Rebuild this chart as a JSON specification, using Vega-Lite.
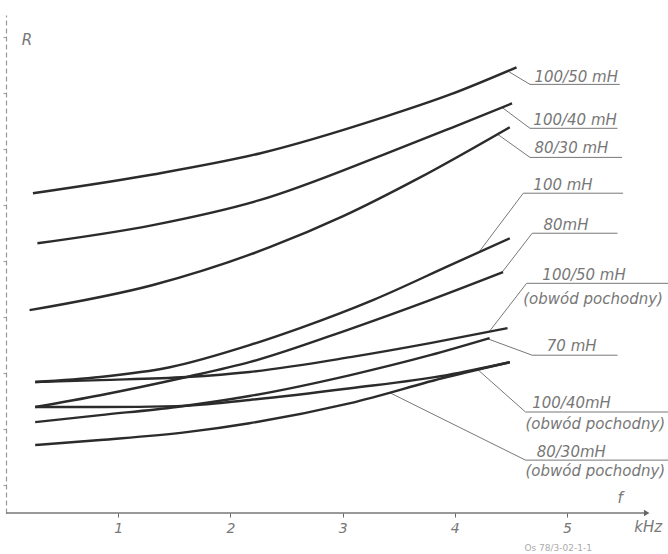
{
  "$schema": "https://vega.github.io/schema/vega-lite/v6.json",
  "width": 662,
  "height": 498,
  "autosize": "none",
  "padding": {"left": 6, "top": 15, "right": 0, "bottom": 41},
  "background": "white",
  "config": {"view": {"stroke": null}},
  "datasets": {
    "curves": [
      {"series": "100/50 mH", "f": 0.24, "R": 11.43}, {"series": "100/50 mH", "f": 1.31, "R": 12.1}, {"series": "100/50 mH", "f": 2.26, "R": 12.85}, {"series": "100/50 mH", "f": 3.36, "R": 14.14}, {"series": "100/50 mH", "f": 3.96, "R": 14.96}, {"series": "100/50 mH", "f": 4.55, "R": 15.93},
      {"series": "100/40 mH", "f": 0.28, "R": 9.64}, {"series": "100/40 mH", "f": 1.31, "R": 10.29}, {"series": "100/40 mH", "f": 2.26, "R": 11.18}, {"series": "100/40 mH", "f": 3.36, "R": 12.8}, {"series": "100/40 mH", "f": 3.96, "R": 13.75}, {"series": "100/40 mH", "f": 4.51, "R": 14.64},
      {"series": "80/30 mH", "f": 0.21, "R": 7.25}, {"series": "80/30 mH", "f": 1.31, "R": 8.15}, {"series": "80/30 mH", "f": 2.35, "R": 9.5}, {"series": "80/30 mH", "f": 3.0, "R": 10.6}, {"series": "80/30 mH", "f": 3.67, "R": 11.95}, {"series": "80/30 mH", "f": 4.49, "R": 13.79},
      {"series": "100 mH", "f": 0.26, "R": 4.68}, {"series": "100 mH", "f": 0.84, "R": 4.86}, {"series": "100 mH", "f": 1.46, "R": 5.21}, {"series": "100 mH", "f": 2.17, "R": 6.0}, {"series": "100 mH", "f": 2.62, "R": 6.61}, {"series": "100 mH", "f": 3.27, "R": 7.61}, {"series": "100 mH", "f": 3.96, "R": 8.86}, {"series": "100 mH", "f": 4.49, "R": 9.82},
      {"series": "80 mH", "f": 0.26, "R": 3.79}, {"series": "80 mH", "f": 0.84, "R": 4.21}, {"series": "80 mH", "f": 1.61, "R": 4.86}, {"series": "80 mH", "f": 2.17, "R": 5.39}, {"series": "80 mH", "f": 3.04, "R": 6.54}, {"series": "80 mH", "f": 3.78, "R": 7.61}, {"series": "80 mH", "f": 4.43, "R": 8.61},
      {"series": "100/50 mH pochodny", "f": 0.26, "R": 4.68}, {"series": "100/50 mH pochodny", "f": 0.84, "R": 4.75}, {"series": "100/50 mH pochodny", "f": 1.61, "R": 4.86}, {"series": "100/50 mH pochodny", "f": 2.17, "R": 5.04}, {"series": "100/50 mH pochodny", "f": 3.07, "R": 5.57}, {"series": "100/50 mH pochodny", "f": 3.78, "R": 6.07}, {"series": "100/50 mH pochodny", "f": 4.47, "R": 6.61},
      {"series": "70 mH", "f": 0.26, "R": 3.25}, {"series": "70 mH", "f": 0.84, "R": 3.5}, {"series": "70 mH", "f": 1.52, "R": 3.79}, {"series": "70 mH", "f": 2.17, "R": 4.18}, {"series": "70 mH", "f": 3.07, "R": 4.93}, {"series": "70 mH", "f": 3.78, "R": 5.64}, {"series": "70 mH", "f": 4.31, "R": 6.25},
      {"series": "100/40 mH pochodny", "f": 0.26, "R": 3.79}, {"series": "100/40 mH pochodny", "f": 0.84, "R": 3.79}, {"series": "100/40 mH pochodny", "f": 1.52, "R": 3.82}, {"series": "100/40 mH pochodny", "f": 2.17, "R": 4.04}, {"series": "100/40 mH pochodny", "f": 3.07, "R": 4.46}, {"series": "100/40 mH pochodny", "f": 3.93, "R": 4.93}, {"series": "100/40 mH pochodny", "f": 4.49, "R": 5.39},
      {"series": "80/30 mH pochodny", "f": 0.26, "R": 2.43}, {"series": "80/30 mH pochodny", "f": 0.84, "R": 2.61}, {"series": "80/30 mH pochodny", "f": 1.61, "R": 2.89}, {"series": "80/30 mH pochodny", "f": 2.17, "R": 3.21}, {"series": "80/30 mH pochodny", "f": 3.07, "R": 3.93}, {"series": "80/30 mH pochodny", "f": 3.93, "R": 4.86}, {"series": "80/30 mH pochodny", "f": 4.49, "R": 5.39}
    ],
    "leaders": [
      {"id": 1, "o": 1, "f": 4.47, "R": 15.8}, {"id": 1, "o": 2, "f": 4.67, "R": 15.32}, {"id": 1, "o": 3, "f": 5.47, "R": 15.32},
      {"id": 2, "o": 1, "f": 4.42, "R": 14.5}, {"id": 2, "o": 2, "f": 4.67, "R": 13.75}, {"id": 2, "o": 3, "f": 5.45, "R": 13.75},
      {"id": 3, "o": 1, "f": 4.38, "R": 13.54}, {"id": 3, "o": 2, "f": 4.67, "R": 12.71}, {"id": 3, "o": 3, "f": 5.49, "R": 12.71},
      {"id": 4, "o": 1, "f": 4.21, "R": 9.3}, {"id": 4, "o": 2, "f": 4.61, "R": 11.43}, {"id": 4, "o": 3, "f": 5.5, "R": 11.43},
      {"id": 5, "o": 1, "f": 4.42, "R": 8.6}, {"id": 5, "o": 2, "f": 4.69, "R": 10.0}, {"id": 5, "o": 3, "f": 5.45, "R": 10.0},
      {"id": 6, "o": 1, "f": 4.31, "R": 6.5}, {"id": 6, "o": 2, "f": 4.64, "R": 8.21}, {"id": 6, "o": 3, "f": 5.9, "R": 8.21},
      {"id": 7, "o": 1, "f": 4.29, "R": 6.23}, {"id": 7, "o": 2, "f": 4.69, "R": 5.64}, {"id": 7, "o": 3, "f": 5.45, "R": 5.64},
      {"id": 8, "o": 1, "f": 4.2, "R": 5.14}, {"id": 8, "o": 2, "f": 4.63, "R": 3.61}, {"id": 8, "o": 3, "f": 5.9, "R": 3.61},
      {"id": 9, "o": 1, "f": 3.42, "R": 4.3}, {"id": 9, "o": 2, "f": 4.63, "R": 1.89}, {"id": 9, "o": 3, "f": 5.9, "R": 1.89}
    ],
    "labels": [
      {"f": 4.71, "R": 15.39, "t": "100/50 mH"},
      {"f": 4.7, "R": 13.86, "t": "100/40 mH"},
      {"f": 4.71, "R": 12.86, "t": "80/30 mH"},
      {"f": 4.7, "R": 11.54, "t": "100 mH"},
      {"f": 4.79, "R": 10.11, "t": "80mH"},
      {"f": 4.78, "R": 8.32, "t": "100/50 mH"},
      {"f": 4.61, "R": 7.46, "t": "(obwód pochodny)"},
      {"f": 4.82, "R": 5.79, "t": "70 mH"},
      {"f": 4.69, "R": 3.75, "t": "100/40mH"},
      {"f": 4.63, "R": 3.0, "t": "(obwód pochodny)"},
      {"f": 4.73, "R": 2.0, "t": "80/30mH"},
      {"f": 4.63, "R": 1.32, "t": "(obwód pochodny)"},
      {"f": 0.14, "R": 16.71, "t": "R"},
      {"f": 5.45, "R": 0.36, "t": "f"},
      {"f": 5.6, "R": -0.68, "t": "kHz"}
    ],
    "axisline": [{"f": 0, "f2": 5.71, "R": 0}],
    "arrow": [{"f": 5.71, "R": 0}],
    "stamp": [{"f": 4.62, "R": -1.35, "t": "Os 78/3-02-1-1"}]
  },
  "layer": [
    {
      "data": {"name": "axisline"},
      "mark": {"type": "rule", "color": "#777", "strokeWidth": 1.5},
      "encoding": {
        "x": {"field": "f", "type": "quantitative", "scale": {"domain": [0, 5.9], "nice": false, "zero": false},
          "axis": {"values": [1, 2, 3, 4, 5], "format": "d", "domain": false, "grid": false, "title": null, "tickColor": "#666", "tickSize": 4, "labelFont": "DejaVu Sans", "labelFontStyle": "italic", "labelFontSize": 14, "labelFontWeight": "normal", "labelColor": "#777", "labelPadding": 4}},
        "x2": {"field": "f2"},
        "y": {"field": "R", "type": "quantitative", "scale": {"domain": [0, 17.8], "nice": false, "zero": false},
          "axis": {"values": [1, 2, 3, 4, 5, 6, 7, 8, 9, 10, 11, 12, 13, 14, 15, 16, 17], "labels": false, "grid": false, "title": null, "tickColor": "#999", "tickSize": 3, "domainColor": "#999", "domainDash": [5, 3], "domainWidth": 1.2}}
      }
    },
    {
      "data": {"name": "arrow"},
      "mark": {"type": "point", "shape": "triangle-right", "filled": true, "color": "#666", "size": 40, "opacity": 1},
      "encoding": {"x": {"field": "f", "type": "quantitative"}, "y": {"field": "R", "type": "quantitative"}}
    },
    {
      "data": {"name": "leaders"},
      "mark": {"type": "line", "color": "#777", "strokeWidth": 1},
      "encoding": {
        "x": {"field": "f", "type": "quantitative"},
        "y": {"field": "R", "type": "quantitative"},
        "detail": {"field": "id"},
        "order": {"field": "o"}
      }
    },
    {
      "data": {"name": "curves"},
      "mark": {"type": "line", "color": "#2b2b2b", "strokeWidth": 2.4, "interpolate": "monotone"},
      "encoding": {
        "x": {"field": "f", "type": "quantitative"},
        "y": {"field": "R", "type": "quantitative"},
        "detail": {"field": "series"}
      }
    },
    {
      "data": {"name": "labels"},
      "mark": {"type": "text", "align": "left", "baseline": "alphabetic", "font": "DejaVu Sans", "fontStyle": "italic", "fontSize": 15, "color": "#777"},
      "encoding": {
        "x": {"field": "f", "type": "quantitative"},
        "y": {"field": "R", "type": "quantitative"},
        "text": {"field": "t"}
      }
    },
    {
      "data": {"name": "stamp"},
      "mark": {"type": "text", "align": "left", "baseline": "alphabetic", "font": "DejaVu Sans", "fontSize": 9, "color": "#aaa"},
      "encoding": {
        "x": {"field": "f", "type": "quantitative"},
        "y": {"field": "R", "type": "quantitative"},
        "text": {"field": "t"}
      }
    }
  ]
}
